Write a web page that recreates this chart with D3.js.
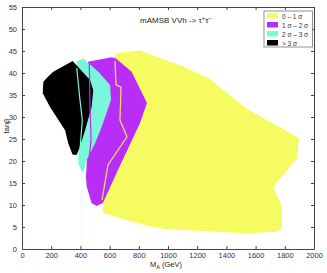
<!DOCTYPE html>
<html><head><meta charset="utf-8">
<script src="https://cdn.jsdelivr.net/npm/d3@7"></script>
<style>body{margin:0;background:#fff}svg{display:block}text{font-family:"Liberation Sans",Arial,sans-serif}</style>
</head><body><svg id="c" width="327" height="273"></svg>
<script>
// Region polygons [MA (GeV), tanβ]
const band01 = [[644,44.5],[808,45.1],[1094,41.6],[1274,38.9],[1534,32.0],[1897,25.2],[1884,20.7],[1719,14.1],[1781,9.8],[1781,4.8],[1747,3.9],[1527,3.6],[991,4.5],[877,5.1],[671,7.0],[555,8.2],[555,11.1],[603,22.5],[623,43.0]];
const band12 = [[458,42.6],[614,43.6],[644,43.3],[751,40.3],[856,33.2],[808,28.6],[658,18.0],[555,10.5],[512,9.8],[477,10.4],[443,14.2],[438,16.4],[445,20.2],[452,42.5]];
const band23 = [[375,42.6],[420,43.3],[523,40.3],[603,37.3],[610,33.9],[546,27.8],[500,24.0],[443,20.2],[420,17.6],[409,17.6],[386,19.5],[386,22.5],[356,33.9]];
const band3 = [[347,42.7],[466,38.4],[488,36.1],[477,32.3],[432,27.0],[397,23.3],[375,21.4],[347,21.4],[317,24.0],[295,27.0],[192,32.3],[142,35.4],[146,38.0],[180,39.2],[214,40.3]];
// contour lines
const line01 = [[637,42.7],[644,37.3],[678,36.8],[671,29.3],[719,25.5],[589,19.1],[548,11.1]];
const line12 = [[461,42.3],[466,32.3],[473,24.8],[461,21.0]];
const line23 = [[375,41.1],[397,33.9],[413,29.3],[397,22.5]];
const line23tail = [[410,17.6],[410,0]];
const xTicks = [0,200,400,600,800,1000,1200,1400,1600,1800,2000];
const yTicks = [0,5,10,15,20,25,30,35,40,45,50,55];
const legendLabels = ["0 \u2013 1 \u03c3","1 \u03c3 \u2013 2 \u03c3","2 \u03c3 \u2013 3 \u03c3","> 3 \u03c3"];
const colors = ["#f5fb60","#b92ef6","#7af6da","#000000"];

const svg = d3.select("#c");
const x = d3.scaleLinear().domain([0,2000]).range([22,314]);
const y = d3.scaleLinear().domain([0,55]).range([249,7]);
const poly = d3.line().x(d=>x(d[0])).y(d=>y(d[1])).curve(d3.curveLinearClosed);
const ln = d3.line().x(d=>x(d[0])).y(d=>y(d[1]));

[band01,band12,band23,band3].forEach((b,i)=>{
  svg.append("path").attr("d",poly(b)).attr("fill",colors[i]);
});
svg.append("path").attr("d",ln(line23tail)).attr("fill","none").attr("stroke","#7af6da").attr("stroke-width",0.6).attr("opacity",0.4);
svg.append("path").attr("d",ln(line01)).attr("fill","none").attr("stroke","#ece65a").attr("stroke-width",1.2);
svg.append("path").attr("d",ln(line12)).attr("fill","none").attr("stroke","#b92ef6").attr("stroke-width",1.2);
svg.append("path").attr("d",ln(line23)).attr("fill","none").attr("stroke","#7af6da").attr("stroke-width",1.2);

function style(g){ g.select(".domain").attr("stroke","#444"); g.selectAll(".tick line").attr("stroke","#444"); g.selectAll("text").attr("fill","#333").style("font-size","7.5px").style("font-family","'Liberation Sans',Arial,sans-serif"); }
const fmt = d3.format("d");
svg.append("g").attr("transform","translate(0,249)").call(d3.axisBottom(x).tickValues(xTicks).tickFormat(fmt).tickSizeInner(-3).tickSizeOuter(0).tickPadding(4)).call(style);
svg.append("g").attr("transform","translate(22,0)").call(d3.axisLeft(y).tickValues(yTicks).tickFormat(fmt).tickSizeInner(-3).tickSizeOuter(0).tickPadding(5)).call(style);
svg.append("g").attr("transform","translate(0,7)").call(d3.axisTop(x).tickValues(xTicks).tickSizeInner(-3).tickSizeOuter(0).tickFormat("")).call(style);
svg.append("g").attr("transform","translate(314,0)").call(d3.axisRight(y).tickValues(yTicks).tickSizeInner(-3).tickSizeOuter(0).tickFormat("")).call(style);

// axis titles
const xt = svg.append("text").attr("x",150).attr("y",266.5).attr("fill","#222").style("font-size","7.5px");
xt.append("tspan").text("M");
xt.append("tspan").attr("dy",2.5).style("font-size","5.5px").text("A");
xt.append("tspan").attr("dy",-2.5).text("  (GeV)");
svg.append("text").attr("transform","translate(9,126) rotate(-90)").attr("text-anchor","middle").attr("fill","#222").style("font-size","7.5px").text("tan\u03b2");

// title
const tt = svg.append("text").attr("x",140).attr("y",23).attr("fill","#222").style("font-size","8px");
tt.append("tspan").text("mAMSB  VVh -> \u03c4");
tt.append("tspan").attr("dy",-3).style("font-size","6px").text("+");
tt.append("tspan").attr("dy",3).text("\u03c4");
tt.append("tspan").attr("dy",-3).style("font-size","6px").text("\u2212");

// legend
const lg = svg.append("g");
lg.append("rect").attr("x",264).attr("y",11).attr("width",48.5).attr("height",36).attr("fill","#fff").attr("stroke","#777").attr("stroke-width",0.8);
legendLabels.forEach((t,i)=>{
  const yy = 13 + i*9;
  lg.append("rect").attr("x",267).attr("y",yy).attr("width",11).attr("height",5.5).attr("fill",colors[i]);
  lg.append("text").attr("x",282).attr("y",yy+5.5).attr("fill","#333").style("font-size","6.5px").text(t);
});
</script></body></html>
